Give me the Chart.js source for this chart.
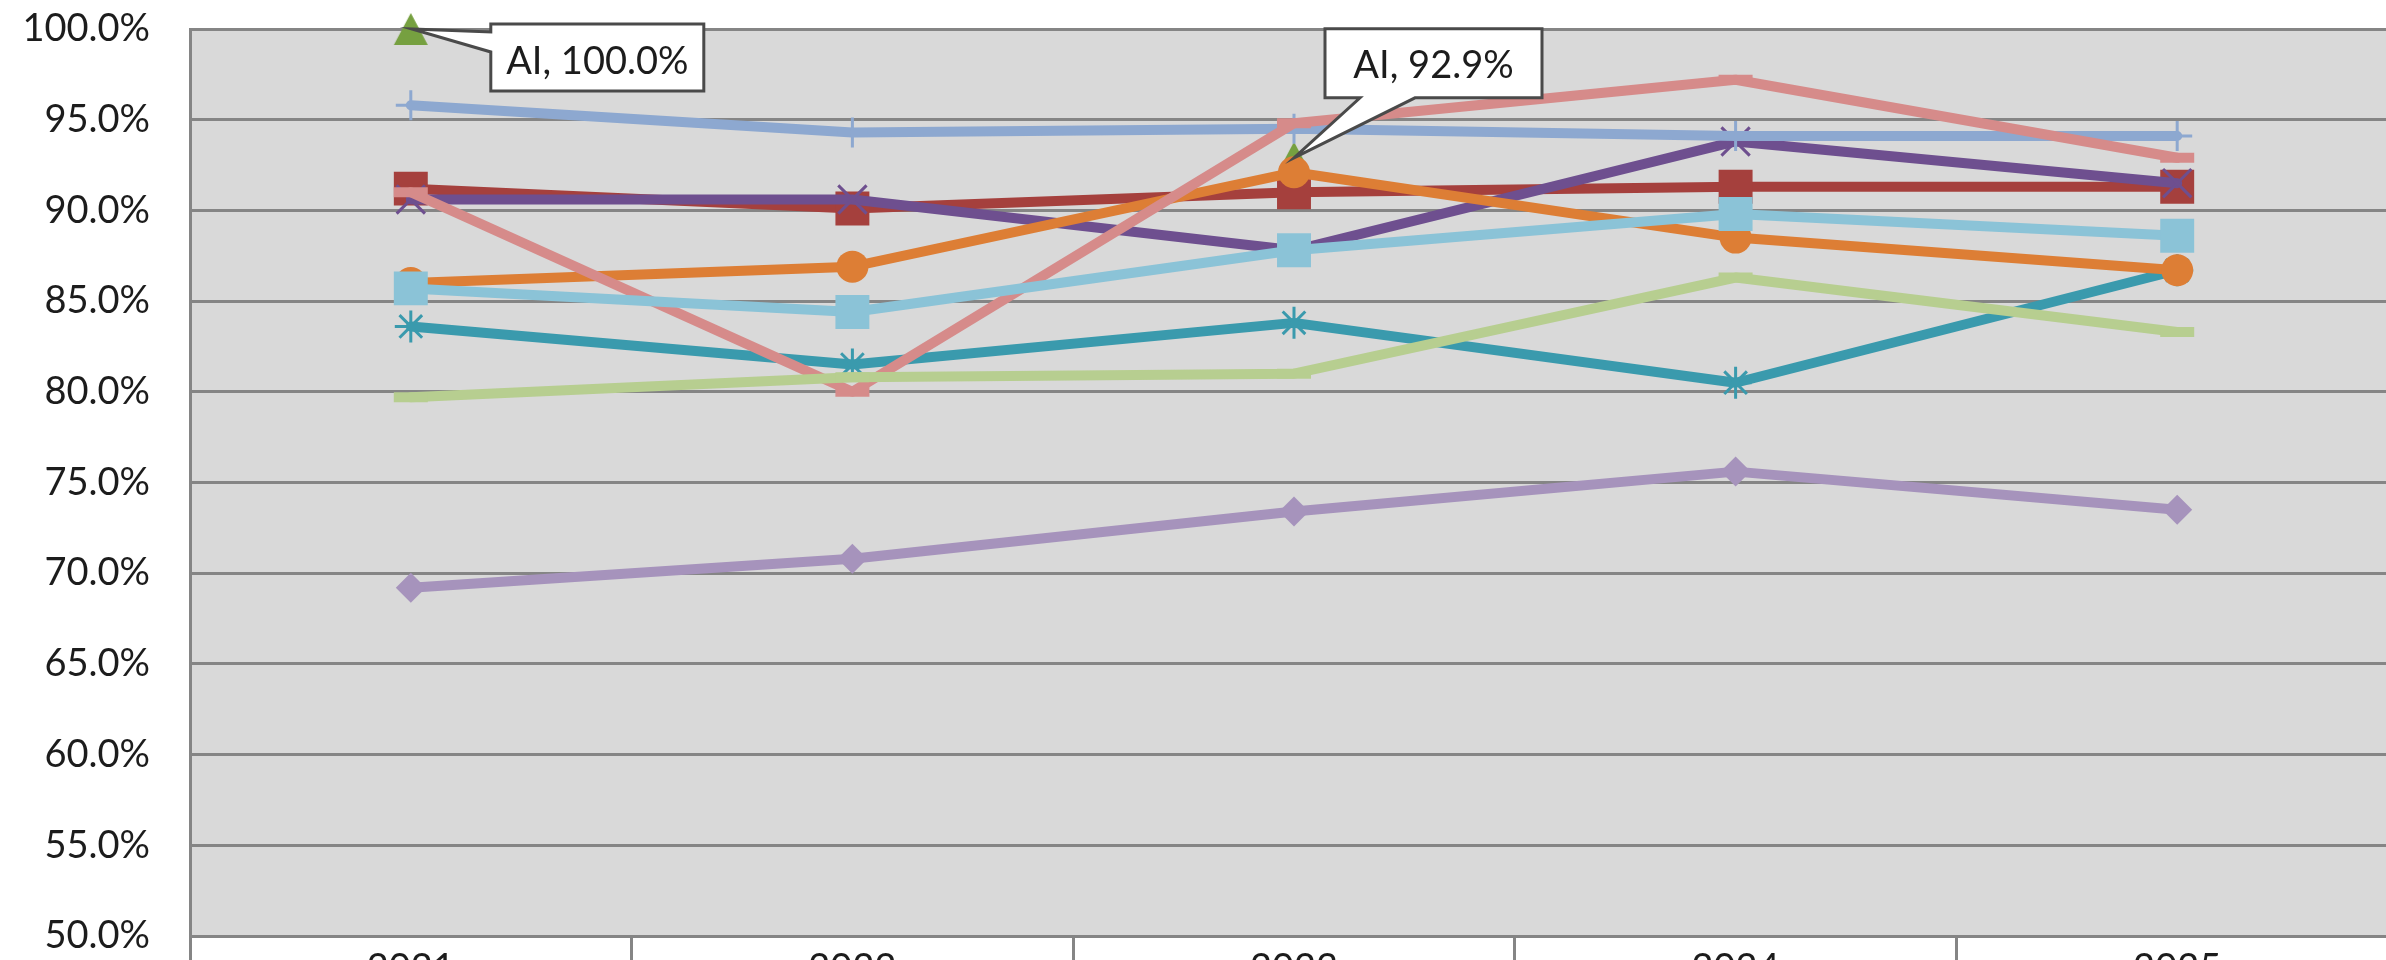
<!DOCTYPE html>
<html>
<head>
<meta charset="utf-8">
<script src="https://cdn.jsdelivr.net/npm/chart.js@4/dist/chart.umd.min.js"></script>
<style>
  html, body { margin: 0; padding: 0; background: #ffffff; overflow: hidden; }
  #wrap { position: absolute; left: 0; top: 0; width: 2425px; height: 1010px; }
</style>
</head>
<body>
<div id="wrap"><canvas id="chart"></canvas></div>
<script>
// Categories (years)
const years = ['2021', '2022', '2023', '2024', '2025'];

// Series values, in percent
const aiName = 'AI';
const aiValues       = [100.0, null, 92.9, null, null];
const redValues      = [91.2, 90.1, 91.0, 91.3, 91.3];
const purpleValues   = [90.6, 90.6, 87.8, 93.8, 91.5];
const tealValues     = [83.6, 81.5, 83.8, 80.5, 86.7];
const orangeValues   = [86.0, 86.9, 92.1, 88.5, 86.7];
const blueValues     = [95.8, 94.3, 94.5, 94.1, 94.1];
const pinkValues     = [91.0, 80.0, 94.8, 97.2, 92.9];
const greenValues    = [79.7, 80.8, 81.0, 86.3, 83.3];
const lavenderValues = [69.2, 70.8, 73.4, 75.6, 73.5];
const aquaValues     = [85.7, 84.4, 87.8, 89.8, 88.6];

// Value axis range
const yMin = 50, yMax = 100, yStep = 5;

const FONT = 'Lato, "Open Sans", sans-serif';
const GRID = '#858585';

// Triangle marker as a small bitmap so it sits centred on its point
function triangleMarker(color) {
  const c = document.createElement('canvas');
  c.width = 36; c.height = 34;
  const g = c.getContext('2d');
  g.fillStyle = color;
  g.beginPath();
  g.moveTo(18, 1);
  g.lineTo(35, 33);
  g.lineTo(1, 33);
  g.closePath();
  g.fill();
  return c;
}

function series(label, data, color, style, order) {
  return Object.assign({
    label, data,
    borderColor: color,
    backgroundColor: color,
    pointBackgroundColor: color,
    pointBorderColor: color,
    borderWidth: 10,
    borderCapStyle: 'round',
    borderJoinStyle: 'round',
    tension: 0,
    spanGaps: false,
    clip: false,
    order
  }, style);
}

const datasets = [
  series('Series 8', redValues, '#A5403D',
    { pointStyle: 'rect', pointRadius: 24, pointBorderWidth: 0 }, 10),
  series(aiName, aiValues, '#76A040',
    { pointStyle: triangleMarker('#76A040'), pointRadius: 17, pointBorderWidth: 0 }, 9),
  series('Series 10', purpleValues, '#6E4F8F',
    { pointStyle: 'crossRot', pointRadius: 20, pointBorderWidth: 3 }, 8),
  series('Series 11', tealValues, '#3A9AAD',
    { pointStyle: 'star', pointRadius: 16, pointBorderWidth: 3 }, 7),
  series('Series 12', orangeValues, '#DD7E35',
    { pointStyle: 'circle', pointRadius: 16, pointBorderWidth: 0 }, 6),
  series('Series 13', blueValues, '#8DA8D0',
    { pointStyle: 'cross', pointRadius: 15, pointBorderWidth: 3 }, 5),
  series('Series 14', pinkValues, '#D68B8A',
    { pointStyle: 'line', pointRadius: 17, pointBorderWidth: 10 }, 4),
  series('Series 15', greenValues, '#B7CE90',
    { pointStyle: 'line', pointRadius: 17, pointBorderWidth: 10 }, 3),
  series('Series 16', lavenderValues, '#A693BC',
    { pointStyle: 'rectRot', pointRadius: 15, pointBorderWidth: 0 }, 2),
  series('Series 17', aquaValues, '#8BC3D7',
    { pointStyle: 'rect', pointRadius: 24, pointBorderWidth: 0 }, 1)
];

// Grey plot area behind the grid
const plotBackground = {
  id: 'plotBackground',
  beforeDraw(chart) {
    const { ctx, chartArea: a } = chart;
    ctx.save();
    ctx.fillStyle = '#d9d9d9';
    ctx.fillRect(a.left, a.top, a.right - a.left, a.bottom - a.top);
    ctx.restore();
  }
};

// Callout boxes for the AI series values
const calloutLayout = [
  { index: 0, dx: 80, dy: -5, w: 213, h: 67, tail: 'left' },
  { index: 2, dx: 31, dy: -129, w: 217, h: 69, tail: 'bottom' }
];

const aiCallouts = {
  id: 'aiCallouts',
  afterDatasetsDraw(chart) {
    const ctx = chart.ctx;
    const dsIndex = chart.data.datasets.findIndex(d => d.label === aiName);
    const meta = chart.getDatasetMeta(dsIndex);
    ctx.save();
    calloutLayout.forEach(c => {
      const v = aiValues[c.index];
      if (v == null) return;
      const pt = meta.data[c.index];
      const px = pt.x, py = pt.y;
      const L = px + c.dx, T = py + c.dy, R = L + c.w, B = T + c.h;
      ctx.beginPath();
      if (c.tail === 'left') {
        ctx.moveTo(L, T);
        ctx.lineTo(R, T);
        ctx.lineTo(R, B);
        ctx.lineTo(L, B);
        ctx.lineTo(L, T + 28);
        ctx.lineTo(px + 1, py);
        ctx.lineTo(L, T + 8);
      } else {
        ctx.moveTo(L, T);
        ctx.lineTo(R, T);
        ctx.lineTo(R, B);
        ctx.lineTo(L + 90, B);
        ctx.lineTo(px, py);
        ctx.lineTo(L + 35, B);
        ctx.lineTo(L, B);
      }
      ctx.closePath();
      ctx.fillStyle = '#ffffff';
      ctx.fill();
      ctx.lineWidth = 3;
      ctx.lineJoin = 'miter';
      ctx.strokeStyle = '#4a4a4a';
      ctx.stroke();
      ctx.fillStyle = '#1c1c1c';
      ctx.font = '38px ' + FONT;
      ctx.textAlign = 'center';
      ctx.textBaseline = 'alphabetic';
      ctx.fillText(aiName + ', ' + v.toFixed(1) + '%', (L + R) / 2, T + 49.5);
    });
    ctx.restore();
  }
};

new Chart(document.getElementById('chart'), {
  type: 'line',
  data: { labels: years, datasets },
  options: {
    responsive: true,
    maintainAspectRatio: false,
    animation: false,
    devicePixelRatio: 1,
    layout: { padding: { top: 29, left: 0, right: 0, bottom: 0 } },
    plugins: {
      legend: { display: false },
      tooltip: { enabled: false },
      title: { display: false }
    },
    scales: {
      x: {
        offset: true,
        afterFit(scale) {
          scale.height = 74;
          scale.paddingLeft = 0;
          scale.paddingRight = 0;
        },
        grid: {
          display: true,
          drawOnChartArea: false,
          drawTicks: true,
          tickLength: 30,
          offset: true,
          color: GRID,
          lineWidth: 3
        },
        border: { display: true, color: GRID, width: 3 },
        ticks: {
          padding: -20,
          color: '#1c1c1c',
          font: { family: FONT, size: 38 }
        }
      },
      y: {
        min: yMin,
        max: yMax,
        afterFit(scale) {
          scale.width = 190;
          scale.paddingTop = 0;
          scale.paddingBottom = 0;
        },
        grid: {
          color: GRID,
          lineWidth: 3,
          drawTicks: false
        },
        border: { display: true, color: GRID, width: 3 },
        ticks: {
          stepSize: yStep,
          padding: 40,
          color: '#1c1c1c',
          font: { family: FONT, size: 38 },
          callback: v => Number(v).toFixed(1) + '%'
        }
      }
    }
  },
  plugins: [plotBackground, aiCallouts]
});
</script>
</body>
</html>
